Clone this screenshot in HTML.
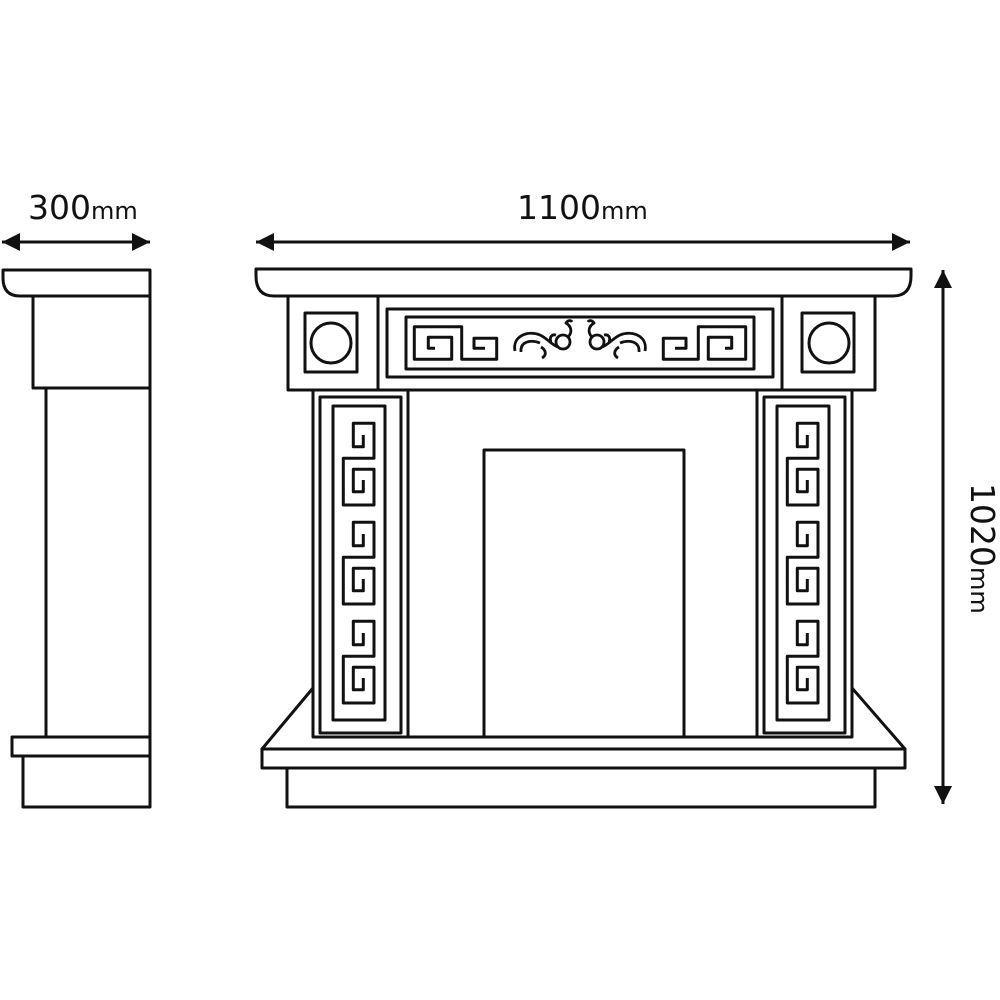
<!DOCTYPE html>
<html><head><style>
html,body{margin:0;padding:0;background:#fff;}
svg{display:block;}
text{font-family:"DejaVu Sans","Liberation Sans",sans-serif;fill:#111;}
</style></head><body>
<svg width="1000" height="1000" viewBox="0 0 1000 1000" xmlns="http://www.w3.org/2000/svg">
<defs>
<marker id="ah" viewBox="0 0 10 10" refX="10" refY="5" markerWidth="7.5" markerHeight="6" orient="auto-start-reverse" markerUnits="strokeWidth">
<path d="M0,0 L10,5 L0,10 z" fill="#111"/>
</marker>
<path id="vk" d="M363.3,435 V446.7 H353.3 V423.3 H374 V458.3 H343.3 V505 H374 V469.3 H353.3 V491.7 H363.3 V480"/>
<g id="hk"><path d="M435,348.3 H428.3 V337.3 H451.7 V359.3 H414.3 V326.7 H461.7 V359.3 H496.7 V338.3 H474 V348.3 H485"/></g>
<g id="scr">
<path d="M515,351 C512,336 528,330 540,335 C548,339 552,345 558,347"/>
<path d="M521,352 C520,342 530,339 540,343"/>
<circle cx="563" cy="342" r="7"/>
<path d="M568,337 C573,332 571,326 566,323 C568,320 571,320 572,322"/>
<path d="M551,342 C549,337 552,334 556,335"/>
<path d="M541,347 C546,350 547,355 542,358"/>
</g>
</defs>
<g fill="none" stroke="#111" stroke-width="3" stroke-linejoin="round">
<!-- side view -->
<path d="M150,270 H3 V278 Q3,296 20,296 H150 Z"/>
<rect x="33" y="296" width="117" height="92"/>
<path d="M46,388 V737 M150,388 V737"/>
<rect x="12" y="737" width="138" height="19"/>
<rect x="23" y="756" width="127" height="51"/>

<!-- front -->
<path d="M256,269 H911 V276 Q911,296 893,296 H274 Q256,296 256,276 Z"/>
<rect x="288" y="296" width="587" height="94"/>
<path d="M378,296 V390 M782,296 V390"/>
<rect x="305" y="313" width="52" height="59"/>
<circle cx="331" cy="343" r="20"/>
<rect x="802" y="313" width="52" height="59"/>
<circle cx="829" cy="343" r="20"/>
<rect x="387" y="309" width="386" height="68"/>
<rect x="406" y="317" width="348" height="52"/>
<use href="#hk"/>
<g transform="translate(1160,0) scale(-1,1)"><use href="#hk"/></g>
<g stroke-width="2.8"><use href="#scr"/>
<g transform="translate(1160,0) scale(-1,1)"><use href="#scr"/></g></g>

<!-- pillars -->
<rect x="313" y="390" width="95" height="347"/>
<rect x="320" y="397" width="81" height="336"/>
<rect x="333" y="406" width="52" height="314"/>
<use href="#vk"/><use href="#vk" transform="translate(0,99)"/><use href="#vk" transform="translate(0,198)"/>
<rect x="757" y="390" width="95" height="347"/>
<rect x="764" y="397" width="81" height="336"/>
<rect x="777" y="406" width="52" height="314"/>
<g transform="translate(444,0)"><use href="#vk"/><use href="#vk" transform="translate(0,99)"/><use href="#vk" transform="translate(0,198)"/></g>

<rect x="484" y="450" width="200" height="287"/>
<path d="M313,737 H852"/>
<path d="M313,688 L262,749 H905 L852,688"/>
<rect x="262" y="749" width="643" height="19"/>
<rect x="287" y="768" width="588" height="39"/>

<!-- dimensions -->
<path d="M2,242 H150" stroke-width="3" marker-start="url(#ah)" marker-end="url(#ah)"/>
<path d="M256,242 H910" stroke-width="3" marker-start="url(#ah)" marker-end="url(#ah)"/>
<path d="M943,270 V804" stroke-width="3" marker-start="url(#ah)" marker-end="url(#ah)"/>
</g>
<text x="28" y="219" font-size="33">300<tspan font-size="24">mm</tspan></text>
<text x="517" y="219" font-size="33">1100<tspan font-size="24">mm</tspan></text>
<text transform="translate(971,483) rotate(90)" font-size="33">1020<tspan font-size="24">mm</tspan></text>
</svg>
</body></html>
